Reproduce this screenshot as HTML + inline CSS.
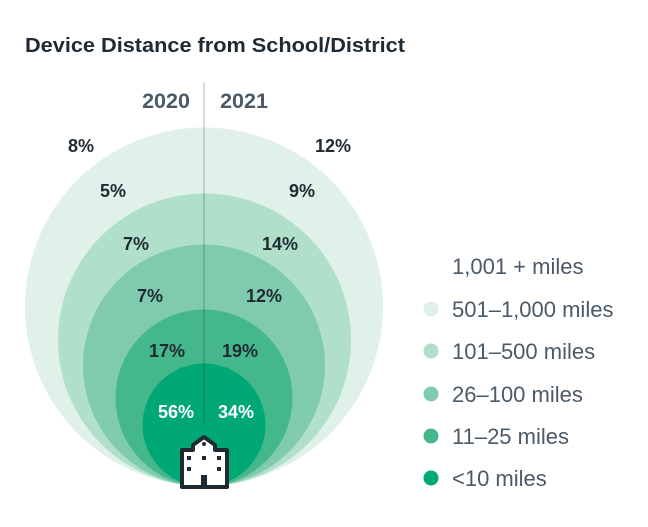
<!DOCTYPE html>
<html><head><meta charset="utf-8"><style>
body{margin:0;background:#fff;width:648px;height:527px;overflow:hidden}
svg{display:block;font-family:"Liberation Sans",sans-serif}
</style></head><body>
<svg width="648" height="527" viewBox="0 0 648 527">
<text x="25" y="52" font-size="20.5" font-weight="bold" fill="#1f2a33" textLength="380" lengthAdjust="spacingAndGlyphs">Device Distance from School/District</text>
<circle cx="204" cy="306.5" r="179" fill="#dff1e8"/>
<circle cx="204.5" cy="340" r="146.5" fill="#b0dfca"/>
<circle cx="204" cy="365.5" r="121" fill="#80cbad"/>
<circle cx="204" cy="398" r="88.5" fill="#45b88b"/>
<circle cx="204" cy="425" r="61.5" fill="#00a876"/>
<line x1="204" y1="82" x2="204" y2="425" stroke="#000" stroke-opacity="0.18" stroke-width="1.5"/>
<g font-size="21.5" font-weight="bold" fill="#4a5a68" text-anchor="middle">
<text x="166" y="108">2020</text><text x="244" y="108">2021</text></g>
<g font-size="18" font-weight="bold" fill="#1f2a33" text-anchor="middle">
<text x="81" y="152">8%</text><text x="333" y="152">12%</text>
<text x="113" y="197">5%</text><text x="302" y="197">9%</text>
<text x="136" y="250">7%</text><text x="280" y="250">14%</text>
<text x="150" y="302">7%</text><text x="264" y="302">12%</text>
<text x="167" y="357">17%</text><text x="240" y="357">19%</text>
<text x="176" y="418" fill="#fff">56%</text><text x="236" y="418" fill="#fff">34%</text></g>
<g>
<path d="M182,487 V450 H193 V445 L204,437 L215,445 V450 H227 V487 Z" fill="#fff" stroke="#1f2a33" stroke-width="4" stroke-linejoin="round"/>
<circle cx="204" cy="444" r="2" fill="#1f2a33"/>
<rect x="187" y="456" width="4" height="4" fill="#1f2a33"/><rect x="202" y="456" width="4" height="4" fill="#1f2a33"/><rect x="217" y="456" width="4" height="4" fill="#1f2a33"/>
<rect x="187" y="467" width="4" height="4" fill="#1f2a33"/><rect x="217" y="467" width="4" height="4" fill="#1f2a33"/>
<rect x="201" y="475" width="6" height="12" fill="#1f2a33"/>
</g>
<g font-size="22" fill="#4a5a68">
<text x="452" y="274">1,001 + miles</text>
<circle cx="431" cy="309" r="7.5" fill="#dff1e8"/><text x="452" y="317">501–1,000 miles</text>
<circle cx="431" cy="351" r="7.5" fill="#b0dfca"/><text x="452" y="359">101–500 miles</text>
<circle cx="431" cy="394" r="7.5" fill="#80cbad"/><text x="452" y="402">26–100 miles</text>
<circle cx="431" cy="436" r="7.5" fill="#45b88b"/><text x="452" y="444">11–25 miles</text>
<circle cx="431" cy="478" r="7.5" fill="#00a876"/><text x="452" y="486">&lt;10 miles</text>
</g>
</svg>
</body></html>
